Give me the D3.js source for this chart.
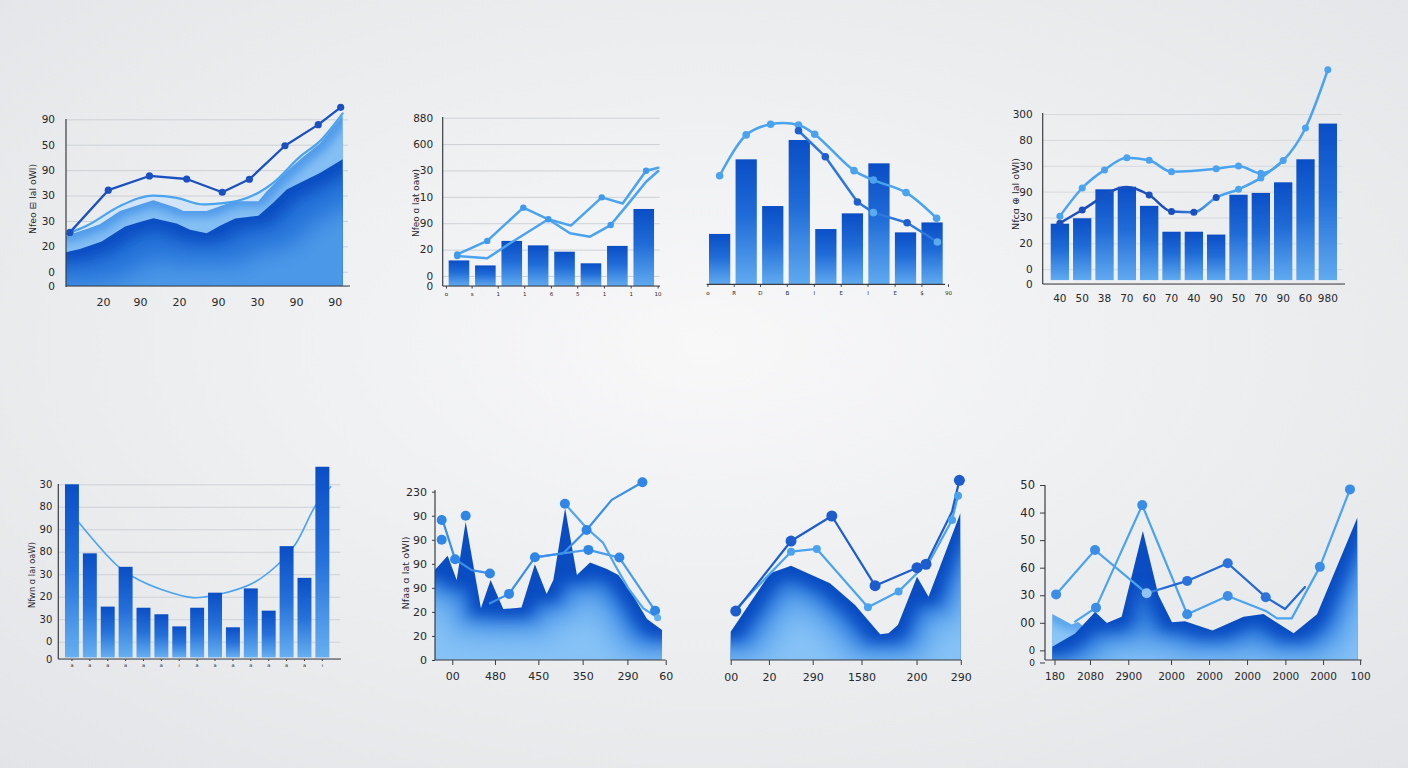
<!DOCTYPE html>
<html><head><meta charset="utf-8">
<script src="https://cdn.jsdelivr.net/npm/d3@7"></script>
<style>
html,body{margin:0;padding:0;background:#eceef1;overflow:hidden;}
svg{display:block;}
text{font-family:"DejaVu Sans","Liberation Sans",Arial,sans-serif;}
</style></head><body>
<script>
// ================= DATA =================
// Panel 1 (top-left area chart)
const p1YTicks = [-5.6, 0, 10, 20, 30, 40, 50, 60];
const p1YLabels = ["0","0","20","30","30","90","50","90"];
const p1XTicks = [13.2, 26.4, 40.4, 54.3, 68.2, 82.1, 96];
const p1XLabels = ["20","90","20","90","30","90","90"];
const p1LineX = [1.4, 15.1, 29.8, 43.1, 55.8, 65.5, 78.2, 90.1, 98.1];
const p1LineY = [15.5, 32.1, 37.7, 36.5, 31.3, 36.4, 49.6, 57.9, 64.7];
const p1PaleX = [0.25, 7.4, 19.3, 31.2, 39.5, 49, 55, 61, 68.7, 74, 83.6, 90.7, 98.8];
const p1PaleY = [14.9, 18.1, 25.9, 30.0, 29.1, 26.5, 26.9, 27.8, 31.1, 35.0, 45.3, 51.4, 62.3];
const p1MidX = [0, 7.4, 12.1, 19.3, 26.4, 31.2, 39.5, 41.9, 50.25, 55, 59.75, 68.7, 71.7, 78.8, 84.75, 90.7, 98.8];
const p1MidY = [14.2, 16.8, 18.7, 23.9, 26.5, 28.1, 25.2, 23.9, 23.9, 25.8, 27.8, 27.8, 31.7, 39.5, 45.3, 50.5, 61.5];
const p1DarkX = [0, 5, 12.75, 21.1, 26.4, 31.2, 39.5, 44.3, 50.25, 55, 60.4, 68.7, 74, 78.8, 83.6, 90.7, 98.8];
const p1DarkY = [7.7, 9.0, 11.9, 17.8, 19.6, 21.1, 19.0, 16.5, 15.2, 18.1, 21.0, 22.0, 27.2, 32.4, 35.0, 38.9, 44.3];

// Panel 2 (top, bars + two lines)
const p2YTicks = [-3.8, 0, 10, 20, 30, 40, 50, 60];
const p2YLabels = ["0","0","20","90","10","30","600","880"];
const p2Bars = [5.9, 4.0, 13.3, 11.6, 9.2, 4.8, 11.4, 25.4];
const p2XTicks = [1.5, 13.3, 25.3, 37.5, 49.8, 61.9, 74.2, 86.5, 98.9];
const p2XLabels = ["o","s","1","1","6","5","1","1","10"];
const p2AX = [6.7, 20.5, 37.1, 48.6, 59, 73.2, 82.8, 93.6, 99.2];
const p2AY = [8.2, 13.3, 25.9, 21.5, 19.1, 29.8, 27.5, 39.9, 41.0];
const p2BX = [6.7, 20.5, 31, 48.6, 58.6, 67.8, 77.3, 86.2, 93.6, 99.2];
const p2BY = [7.6, 6.7, 12.4, 21.5, 16.2, 14.9, 19.3, 28.2, 35.7, 39.8];

// Panel 3 (top, bars + lines, no y axis)
const p3Bars = [28.9, 71.7, 44.9, 82.8, 31.7, 40.7, 69.4, 29.8, 35.5];
const p3XTicks = [-0.46, 0.53, 1.52, 2.53, 3.55, 4.56, 5.57, 6.59, 7.6, 8.6];
const p3XLabels = ["o","R","D","B","I","E","I","E","$","90"];
const p3LightI = [0, 1, 1.92, 2.97, 3.58, 5.06, 5.79, 7.02, 8.17];
const p3LightV = [62.3, 85.7, 91.8, 91.4, 86.1, 65.2, 59.8, 52.6, 37.9];
const p3DarkI = [2.97, 3.98, 5.19, 5.79, 7.06, 8.2];
const p3DarkV = [88.1, 73.2, 47.2, 41.1, 35.3, 24.3];

// Panel 4 (top-right, bars + lines)
const p4YTicks = [-5.7, 0, 10, 20, 30, 40, 50, 60];
const p4YLabels = ["0","0","20","30","90","30","80","300"];
const p4XLabels = ["40","50","38","70","60","70","40","90","50","70","90","60","980"];
const p4Bars = [17.6, 19.7, 30.9, 31.9, 24.5, 14.5, 14.5, 13.4, 28.8, 29.5, 33.6, 42.5, 56.3];
const p4LightI = [0, 1, 2, 3, 4, 5, 7, 8, 9, 10, 11, 12];
const p4LightV = [20.5, 31.4, 38.4, 43.1, 42.1, 37.7, 38.8, 39.9, 37.1, 42, 54.6, 77.1];
const p4DarkI = [0, 1, 3, 4, 5, 6, 7, 8, 9, 10];
const p4DarkV = [17.8, 22.9, 31.8, 28.7, 22.3, 22, 27.7, 30.9, 35.3, 42];

// Panel 5 (bottom-left, bars + curve)
const p5YTicks = [-7.7, 0, 10, 20, 30, 40, 50, 60, 70];
const p5YLabels = ["0","0","30","20","30","80","90","80","30"];
const p5Bars = [70, 39.3, 15.6, 33.3, 15.1, 12.2, 6.8, 15.1, 21.8, 6.4, 23.7, 13.8, 42.5, 28.4, 77.8];
const p5XLabels = ["a","a","a","a","a","a","ı","a","a","a","a","a","a","a","ı"];
const p5CurveI = [0.35, 2.49, 3.41, 5.08, 6.76, 8.24, 10.1, 11.59, 12.52, 13.63, 14.47];
const p5CurveV = [53.3, 34.1, 28.9, 23, 19.6, 21.1, 26, 34.9, 43.7, 60.7, 68.9];

// Panel 6 (bottom, area + lines)
const p6YTicks = [0, 10, 20, 30, 40, 50, 60, 70];
const p6YLabels = ["0","20","20","90","90","90","90","230"];
const p6XTicks = [7.5, 26, 44.8, 64, 83.4, 100];
const p6XLabels = ["00","480","450","350","290","60"];
const p6AreaX = [0, 5.5, 9.4, 13.3, 19.9, 24.1, 29.6, 37.5, 43.3, 48.4, 51.3, 56.4, 61.5, 67.2, 74.5, 79.5, 85.3, 91.9, 98.4];
const p6AreaY = [37.5, 43.4, 33.3, 57.5, 21.5, 33.3, 21.2, 21.8, 39.8, 27.4, 33.3, 63.1, 35.4, 40.6, 37.8, 35.4, 27.7, 17.1, 12.5];
const p6L1X = [2.9, 4.0, 8.7, 15.9, 23.8];
const p6L1Y = [58.2, 56.1, 41.9, 37.4, 36.0];
const p6DotX = [2.9, 13.3];
const p6DotY = [50.0, 60.0];
const p6L3X = [23.8, 32.1, 43.3, 55.6, 65.7, 76.6, 89.9];
const p6L3Y = [23.6, 27.5, 42.7, 44.4, 54.1, 66.6, 73.9];
const p6L4X = [43.3, 55.6, 66.5, 79.9, 95.4];
const p6L4Y = [42.7, 44.4, 45.8, 42.6, 20.5];
const p6L5X = [56.3, 65.7, 72.9, 78.0, 83.8, 90.3, 96.5];
const p6L5Y = [65.0, 54.9, 48.7, 39.5, 29.8, 21.5, 17.6];

// Panel 7 (bottom, area + lines, no y axis)
const p7XTicks = [0, 16.6, 35.6, 56.8, 80.7, 99.9];
const p7XLabels = ["00","20","290","1580","200","290"];
const p7AreaX = [0, 17.1, 26.2, 43.1, 54, 64.9, 68.5, 72.6, 80.9, 85.9, 99.7];
const p7AreaY = [15.7, 48.2, 52.4, 42.6, 30.6, 14.3, 14.8, 19.4, 46.3, 35.2, 81.5];
const p7DarkX = [2.2, 26.2, 43.9, 62.7, 80.9, 84.8, 96.1, 99.3];
const p7DarkY = [27.2, 66.1, 80, 41.3, 51.3, 53.2, 82.4, 99.8];
const p7LightX = [2.6, 26.2, 37.4, 59.6, 72.9, 82.3, 85.9, 96.1, 98.7];
const p7LightY = [28.7, 60.2, 61.7, 29.3, 38, 50, 53.7, 77.8, 91.3];

// Panel 8 (bottom-right, area + lines)
const p8YTicks = [-4.4, 0, 10, 20, 30, 40, 50, 60];
const p8YLabels = ["0","0","00","30","60","50","40","50"];
const p8XTicks = [3, 14.2, 26.3, 39.8, 51.8, 63.8, 75.9, 87.8, 99.5];
const p8XLabels = ["180","2080","2900","2000","2000","2000","2000","2000","100"];
const p8AreaX = [2.3, 9.5, 15.8, 19.5, 24.2, 30.9, 35.8, 40.1, 44.2, 52.9, 62.7, 69, 78.5, 85.9, 98.6];
const p8AreaY = [1.3, 6.1, 13.9, 9.9, 12.2, 43.3, 20.1, 10.2, 10.6, 7.2, 12.2, 13.2, 6.2, 13.1, 48.1];
const p8LightAreaX = [2.3, 8.4, 10.5, 12.6, 15.8, 19.5];
const p8LightAreaY = [13.2, 9.4, 10.3, 8.1, 13.9, 9.9];
const p8L1X = [3.5, 15.8, 32.1, 44.9, 57.7, 69.7, 75.8, 82.1];
const p8L1Y = [20.3, 36.4, 20.7, 25.2, 31.6, 19.3, 15, 23];
const p8L2X = [9.5, 16.1, 30.7, 44.9, 57.7, 69.7, 73.3, 77.9, 86.8, 96.3];
const p8L2Y = [10.4, 15.5, 52.7, 13.1, 19.7, 14.3, 11.6, 11.6, 30.3, 58.4];

// Y-axis titles
const titles = ["Nfeo ⊟ lal oWl)", "Nfeo ɑ lat oaw)", "Nfcɑ ⊕ lal oWl)", "Nfwn ɑ laı oaW)", "Nfaa ɑ lat oWl)"];

// ================= DRAWING =================
const W = 1408, H = 768;
const svg = d3.select("body").append("svg").attr("width", W).attr("height", H);
const defs = svg.append("defs");

const bgG = defs.append("radialGradient").attr("id", "bg").attr("cx", "50%").attr("cy", "45%").attr("r", "75%");
bgG.append("stop").attr("offset", "0%").attr("stop-color", "#f8f8f9");
bgG.append("stop").attr("offset", "100%").attr("stop-color", "#e2e4e7");
svg.append("rect").attr("width", W).attr("height", H).attr("fill", "url(#bg)");

function vGrad(id, stops) {
  const g = defs.append("linearGradient").attr("id", id).attr("x1", 0).attr("y1", 0).attr("x2", 0).attr("y2", 1);
  stops.forEach(([o, c]) => g.append("stop").attr("offset", o).attr("stop-color", c));
}
function hGradUser(id, x1, x2, stops) {
  const g = defs.append("linearGradient").attr("id", id).attr("gradientUnits", "userSpaceOnUse")
    .attr("x1", x1).attr("y1", 0).attr("x2", x2).attr("y2", 0);
  stops.forEach(([o, c]) => g.append("stop").attr("offset", o).attr("stop-color", c));
}
function erodeFilter(id, r, sd) {
  const f = defs.append("filter").attr("id", id).attr("x", "-10%").attr("y", "-10%").attr("width", "120%").attr("height", "120%");
  f.append("feMorphology").attr("operator", "erode").attr("radius", r).attr("result", "e");
  f.append("feGaussianBlur").attr("in", "e").attr("stdDeviation", sd);
}
vGrad("barG", [[0, "#0a4ec6"], [0.45, "#1f6bd7"], [1, "#60aaf0"]]);
vGrad("barG5", [[0, "#0a4ec6"], [0.5, "#2571da"], [1, "#66aff2"]]);
erodeFilter("e6", 6, 5);
erodeFilter("e10", 10, 7);
erodeFilter("e18", 18, 9);
erodeFilter("e30", 30, 12);

function axisLine(g, x1, y1, x2, y2) {
  g.append("line").attr("x1", x1).attr("y1", y1).attr("x2", x2).attr("y2", y2)
    .attr("stroke", "#3a3d42").attr("stroke-width", 1.2);
}
function yAxis(g, scale, x, ticks, labels, o) {
  const ax = d3.axisLeft(scale).tickValues(ticks).tickFormat((d, i) => labels[i])
    .tickSizeOuter(0).tickSizeInner(o.inner).tickPadding(o.pad);
  const a = g.append("g").attr("transform", `translate(${x},0)`).call(ax);
  a.select(".domain").remove();
  a.selectAll(".tick line").attr("stroke", o.inner < 0 ? (o.gridColor || "#cdd1d6") : "#3a3d42").attr("stroke-width", 1);
  a.selectAll(".tick text").attr("font-size", o.fs).attr("fill", "#26282c");
  return a;
}
function xAxis(g, scale, y, ticks, labels, o) {
  const ax = d3.axisBottom(scale).tickValues(ticks).tickFormat((d, i) => labels[i])
    .tickSizeOuter(0).tickSizeInner(o.inner).tickPadding(o.pad);
  const a = g.append("g").attr("transform", `translate(0,${y})`).call(ax);
  a.select(".domain").remove();
  a.selectAll(".tick line").attr("stroke", "#3a3d42").attr("stroke-width", 1);
  a.selectAll(".tick text").attr("font-size", o.fs).attr("fill", "#26282c");
  return a;
}
function title(g, x, y, txt, len) {
  g.append("text").attr("transform", `translate(${x},${y}) rotate(-90)`).attr("text-anchor", "middle")
    .attr("dominant-baseline", "central").attr("font-size", 9.5).attr("fill", "#26282c")
    .attr("textLength", len).attr("lengthAdjust", "spacingAndGlyphs").text(txt);
}
function path(g, pts, color, w, curve) {
  g.append("path").attr("d", d3.line().curve(curve || d3.curveLinear)(pts)).attr("fill", "none")
    .attr("stroke", color).attr("stroke-width", w).attr("stroke-linejoin", "round").attr("stroke-linecap", "round");
}
function dots(g, pts, idx, r, colors) {
  idx.forEach((k, j) => g.append("circle").attr("cx", pts[k][0]).attr("cy", pts[k][1]).attr("r", r)
    .attr("fill", Array.isArray(colors) ? colors[j] : colors));
}
let clipN = 0;
function layeredArea(g, pts, base, topColor, bands) {
  const id = "clip" + (clipN++);
  const dMain = d3.area().x(p => p[0]).y0(base).y1(p => p[1])(pts);
  defs.append("clipPath").attr("id", id).append("path").attr("d", dMain);
  g.append("path").attr("d", dMain).attr("fill", topColor);
  const gg = g.append("g").attr("clip-path", `url(#${id})`);
  const n = pts.length;
  const ext = [[pts[0][0] - 60, pts[0][1]], ...pts, [pts[n - 1][0] + 60, pts[n - 1][1]]];
  const dExt = d3.area().x(p => p[0]).y0(base + 120).y1(p => p[1])(ext);
  bands.forEach(b => gg.append("path").attr("d", dExt).attr("fill", b.c).attr("filter", `url(#${b.f})`));
}
const zip = (xs, ys, xS, yS) => xs.map((v, i) => [xS(v), yS(ys[i])]);

// ---------- Panel 1 ----------
{
  const g = svg.append("g");
  const x = d3.scaleLinear().domain([0, 100]).range([66, 346]);
  const y = d3.scaleLinear().domain([-5.6, 60]).range([286, 119.3]);
  yAxis(g, y, 66, p1YTicks, p1YLabels, { inner: -282, pad: 11, fs: 10.5 });
  const base = y(-5.6);
  const pale = zip(p1PaleX, p1PaleY, x, y);
  g.append("path").attr("d", d3.area().x(p => p[0]).y0(base).y1(p => p[1]).curve(d3.curveMonotoneX)(pale)).attr("fill", "#d2e5f8");
  layeredArea(g, zip(p1MidX, p1MidY, x, y), base, "#4f9aea", [{ f: "e6", c: "#84bff4" }]);
  layeredArea(g, zip(p1DarkX, p1DarkY, x, y), base, "#0b4dc2", [{ f: "e10", c: "#2470d8" }, { f: "e30", c: "#4b98e8" }]);
  path(g, pale, "#4aa3ef", 2.2, d3.curveMonotoneX);
  const lp = zip(p1LineX, p1LineY, x, y);
  path(g, lp, "#1b50c1", 2.3);
  dots(g, lp, d3.range(lp.length), 3.6, "#1b50c1");
  axisLine(g, 66, 119, 66, 287);
  axisLine(g, 66, 286, 350, 286);
  xAxis(g, x, 286, p1XTicks, p1XLabels, { inner: 0, pad: 12, fs: 11 });
  title(g, 32, 199, titles[0], 70);
}

// ---------- Panel 2 ----------
{
  const g = svg.append("g");
  const xb = d3.scaleBand().domain(d3.range(p2Bars.length)).range([442.7, 660]).paddingInner(0.22).paddingOuter(0.2256);
  const x = d3.scaleLinear().domain([0, 100]).range([442.7, 660]);
  const y = d3.scaleLinear().domain([-3.8, 60]).range([286, 117.7]);
  yAxis(g, y, 442.7, p2YTicks, p2YLabels, { inner: -217, pad: 9.5, fs: 10.5 });
  g.selectAll("rect.b").data(p2Bars).join("rect").attr("x", (d, i) => xb(i)).attr("width", xb.bandwidth())
    .attr("y", d => y(d)).attr("height", d => y(-3.8) - y(d)).attr("fill", "url(#barG)");
  const a = zip(p2AX, p2AY, x, y), b = zip(p2BX, p2BY, x, y);
  path(g, b, "#4aa3ef", 2.5);
  path(g, a, "#4aa3ef", 2.5);
  dots(g, a, [0, 1, 2, 3, 5, 7], 3.2, "#3f9aec");
  dots(g, b, [0, 6], 3.2, "#3f9aec");
  axisLine(g, 442.7, 117, 442.7, 286);
  axisLine(g, 442.7, 286, 660, 286);
  xAxis(g, x, 286, p2XTicks, p2XLabels, { inner: 2.5, pad: 4, fs: 5.5 });
  title(g, 415, 203, titles[1], 68);
}

// ---------- Panel 3 ----------
{
  const g = svg.append("g");
  const xb = d3.scaleBand().domain(d3.range(p3Bars.length)).range([706.7, 945]).paddingInner(0.2).paddingOuter(0.087);
  const xi = d3.scaleLinear().domain([0, p3Bars.length - 1]).range([xb(0) + xb.bandwidth() / 2, xb(p3Bars.length - 1) + xb.bandwidth() / 2]);
  const y = d3.scaleLinear().domain([0, 100]).range([284.3, 110]);
  g.selectAll("rect.b").data(p3Bars).join("rect").attr("x", (d, i) => xb(i)).attr("width", xb.bandwidth())
    .attr("y", d => y(d)).attr("height", d => y(0) - y(d)).attr("fill", "url(#barG)");
  const lt = zip(p3LightI, p3LightV, xi, y), dk = zip(p3DarkI, p3DarkV, xi, y);
  path(g, lt, "#4aa3ef", 2.5, d3.curveCatmullRom);
  path(g, dk, "#2e78dd", 2.5);
  dots(g, lt, d3.range(lt.length), 3.8, "#4aa3ef");
  dots(g, dk, [0, 1, 2, 4, 3, 5], 3.8, ["#1e5fd0", "#1e5fd0", "#1e5fd0", "#1e5fd0", "#5aaaf0", "#5aaaf0"]);
  axisLine(g, 706.7, 284.3, 945, 284.3);
  xAxis(g, xi, 284.3, p3XTicks, p3XLabels, { inner: 2.5, pad: 4, fs: 5.5 });
}

// ---------- Panel 4 ----------
{
  const g = svg.append("g");
  const xb = d3.scaleBand().domain(d3.range(p4Bars.length)).range([1042.7, 1345]).paddingInner(0.18).paddingOuter(0.359);
  const xi = d3.scaleLinear().domain([0, p4Bars.length - 1]).range([xb(0) + xb.bandwidth() / 2, xb(p4Bars.length - 1) + xb.bandwidth() / 2]);
  const y = d3.scaleLinear().domain([-5.7, 60]).range([284, 114]);
  yAxis(g, y, 1042.7, p4YTicks, p4YLabels, { inner: -300, pad: 10, fs: 10.5, gridColor: "#d6d9dd" });
  g.selectAll("rect.b").data(p4Bars).join("rect").attr("x", (d, i) => xb(i)).attr("width", xb.bandwidth())
    .attr("y", d => y(d)).attr("height", d => y(-4.2) - y(d)).attr("fill", "url(#barG)");
  hGradUser("p4dk", 1165, 1215, [[0, "#1a4fc0"], [1, "#4aa3ef"]]);
  const lt = zip(p4LightI, p4LightV, xi, y), dk = zip(p4DarkI, p4DarkV, xi, y);
  path(g, dk, "url(#p4dk)", 2.5, d3.curveMonotoneX);
  path(g, lt, "#4aa3ef", 2.5, d3.curveMonotoneX);
  dots(g, lt, d3.range(lt.length), 3.5, "#4aa3ef");
  dots(g, dk, [0, 1, 3, 4, 5, 6, 7, 8], 3.5, ["#1a4fc0", "#1a4fc0", "#1a4fc0", "#1a4fc0", "#1a4fc0", "#1a4fc0", "#4aa3ef", "#4aa3ef"]);
  axisLine(g, 1042.7, 113, 1042.7, 284);
  axisLine(g, 1042.7, 284, 1345, 284);
  xAxis(g, xb, 284, d3.range(p4XLabels.length), p4XLabels, { inner: 0, pad: 11, fs: 10.5 });
  title(g, 1015, 194, titles[2], 72);
}

// ---------- Panel 5 ----------
{
  const g = svg.append("g");
  const xb = d3.scaleBand().domain(d3.range(p5Bars.length)).range([58.3, 336]).paddingInner(0.22).paddingOuter(0.373);
  const xi = d3.scaleLinear().domain([0, p5Bars.length - 1]).range([xb(0) + xb.bandwidth() / 2, xb(p5Bars.length - 1) + xb.bandwidth() / 2]);
  const y = d3.scaleLinear().domain([-7.7, 70]).range([659, 484.3]);
  yAxis(g, y, 58.3, p5YTicks, p5YLabels, { inner: -282, pad: 6, fs: 10 });
  path(g, zip(p5CurveI, p5CurveV, xi, y), "#4aa3ef", 1.6, d3.curveCatmullRom);
  g.selectAll("rect.b").data(p5Bars).join("rect").attr("x", (d, i) => xb(i)).attr("width", xb.bandwidth())
    .attr("y", d => y(d)).attr("height", d => y(-7) - y(d)).attr("fill", "url(#barG5)");
  axisLine(g, 58.3, 484, 58.3, 659);
  axisLine(g, 58.3, 659, 341, 659);
  xAxis(g, xb, 659, d3.range(p5XLabels.length), p5XLabels, { inner: 2, pad: 2, fs: 5 });
  title(g, 31, 575, titles[3], 66);
}

// ---------- Panel 6 ----------
{
  const g = svg.append("g");
  const x = d3.scaleLinear().domain([0, 100]).range([435, 665.7]);
  const y = d3.scaleLinear().domain([0, 70]).range([660, 491.7]);
  layeredArea(g, zip(p6AreaX, p6AreaY, x, y), y(0), "#0a4cc2", [{ f: "e10", c: "#2c78dc" }, { f: "e18", c: "#5ea6ee" }, { f: "e30", c: "#86c2f6" }]);
  const l1 = zip(p6L1X, p6L1Y, x, y), l3 = zip(p6L3X, p6L3Y, x, y), l4 = zip(p6L4X, p6L4Y, x, y), l5 = zip(p6L5X, p6L5Y, x, y);
  path(g, l1, "#3a8fe8", 2.2);
  path(g, l4, "#4a9dec", 2.2);
  path(g, l5, "#4fa5ef", 2.2);
  path(g, l3, "#3a8fe8", 2.2);
  const dd = zip(p6DotX, p6DotY, x, y);
  dots(g, dd, [0, 1], 5, "#2f86e6");
  dots(g, l1, [0, 2, 4], 5, "#2f86e6");
  dots(g, l3, [1, 2, 4, 6], 5, "#2f86e6");
  dots(g, l4, [2, 3, 4], 5, "#2f86e6");
  dots(g, l5, [0], 5, "#2f86e6");
  dots(g, l5, [6], 3.5, "#62b0f2");
  axisLine(g, 435, 490, 435, 660);
  axisLine(g, 435, 660, 665.7, 660);
  yAxis(g, y, 435, p6YTicks, p6YLabels, { inner: 3, pad: 5, fs: 11 });
  xAxis(g, x, 660, p6XTicks, p6XLabels, { inner: 5, pad: 7, fs: 11 });
  title(g, 405, 573, titles[4], 73);
}

// ---------- Panel 7 ----------
{
  const g = svg.append("g");
  const x = d3.scaleLinear().domain([0, 100]).range([730.7, 961]);
  const y = d3.scaleLinear().domain([0, 100]).range([660, 480]);
  layeredArea(g, zip(p7AreaX, p7AreaY, x, y), y(0), "#0a4cc2", [{ f: "e10", c: "#2c78dc" }, { f: "e18", c: "#5ea6ee" }, { f: "e30", c: "#86c2f6" }]);
  const dk = zip(p7DarkX, p7DarkY, x, y), lt = zip(p7LightX, p7LightY, x, y);
  path(g, lt, "#4aa3ef", 2.2);
  path(g, dk, "#1d5ccd", 2.2);
  dots(g, lt, [1, 2, 3, 4, 7, 8], 4, "#4aa3ef");
  dots(g, dk, [0, 1, 2, 3, 4, 5, 7], 5.5, "#1d5ccd");
  axisLine(g, 730.7, 660, 961, 660);
  xAxis(g, x, 660, p7XTicks, p7XLabels, { inner: 5, pad: 8, fs: 11 });
}

// ---------- Panel 8 ----------
{
  const g = svg.append("g");
  const x = d3.scaleLinear().domain([0, 100]).range([1045, 1361.7]);
  const y = d3.scaleLinear().domain([-3.5, 60]).range([660, 485]);
  layeredArea(g, zip(p8LightAreaX, p8LightAreaY, x, y), y(-3.5), "#5aa5ee", [{ f: "e6", c: "#8cc6f6" }]);
  layeredArea(g, zip(p8AreaX, p8AreaY, x, y), y(-3.5), "#0a4cc2", [{ f: "e10", c: "#2c78dc" }, { f: "e18", c: "#5ea6ee" }, { f: "e30", c: "#86c2f6" }]);
  hGradUser("p8l1", 1140, 1165, [[0, "#4aa3ef"], [1, "#2468d4"]]);
  const l1 = zip(p8L1X, p8L1Y, x, y), l2 = zip(p8L2X, p8L2Y, x, y);
  path(g, l2, "#4aa3ef", 2.2);
  path(g, l1, "url(#p8l1)", 2.2);
  dots(g, l1, [0, 1, 2, 3, 4, 5], 5, ["#3a8ee8", "#3a8ee8", "#8ec3f2", "#2a74dc", "#2a74dc", "#2a74dc"]);
  dots(g, l2, [1, 2, 3, 4, 8, 9], 5, "#3a8ee8");
  axisLine(g, 1045, 485, 1045, 660);
  axisLine(g, 1045, 660, 1361.7, 660);
  const ya = yAxis(g, y, 1045, p8YTicks, p8YLabels, { inner: 5, pad: 5, fs: 11.5 });
  ya.selectAll(".tick").filter((d, i) => i === 0).select("text").attr("font-size", 9);
  ya.selectAll(".tick").filter((d, i) => i === 1).select("text").attr("font-size", 10);
  xAxis(g, x, 660, p8XTicks, p8XLabels, { inner: 5, pad: 8, fs: 10.5 });
}
</script>
</body></html>
